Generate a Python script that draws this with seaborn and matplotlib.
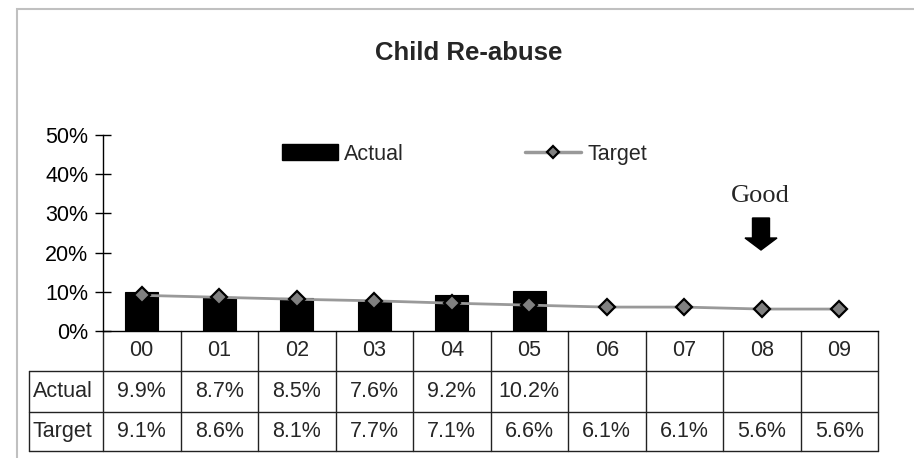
import matplotlib
matplotlib.use("Agg")
import matplotlib.pyplot as plt
import matplotlib.patches as mpatches
from matplotlib.lines import Line2D
from matplotlib.ticker import PercentFormatter
import seaborn as sns

# ---------- data ----------
years = ["00", "01", "02", "03", "04", "05", "06", "07", "08", "09"]
actual_years = ["00", "01", "02", "03", "04", "05"]
actual = [0.099, 0.087, 0.085, 0.076, 0.092, 0.102]
target = [0.091, 0.086, 0.081, 0.077, 0.071, 0.066, 0.061, 0.061, 0.056, 0.056]
yticks = [0.0, 0.1, 0.2, 0.3, 0.4, 0.5]

# ---------- style ----------
sns.set_style("ticks")
plt.rcParams["font.family"] = ["Liberation Sans", "DejaVu Sans"]
FS = 15.5
LINE_GREY = "#999999"
TABLE_LC = "#222222"

W, H = 914, 458
fig = plt.figure(figsize=(W / 100, H / 100), dpi=100)
ax = fig.add_axes([103 / W, (H - 331) / H, 775 / W, 196 / H])

sns.barplot(x=actual_years, y=actual, order=years, color="black",
            saturation=1, width=0.43, edgecolor="black", linewidth=0.8, ax=ax)
sns.pointplot(x=years, y=target, order=years, color=LINE_GREY,
              markers="D", markersize=8, linewidth=2,
              markerfacecolor="#808080", markeredgecolor="black",
              markeredgewidth=1.6, errorbar=None, ax=ax)

ax.set_xlim(-0.5, len(years) - 0.5)
ax.set_ylim(0, 0.5)
ax.set_yticks(yticks)
ax.yaxis.set_major_formatter(PercentFormatter(1.0, decimals=0))
ax.tick_params(axis="y", direction="inout", length=11, width=1, pad=5,
               labelsize=FS, colors="black")
ax.tick_params(axis="x", length=0, labelbottom=False)
ax.set_xlabel("")
ax.set_ylabel("")
for s in ["top", "right"]:
    ax.spines[s].set_visible(False)
for s in ["left", "bottom"]:
    ax.spines[s].set_color("black")
    ax.spines[s].set_linewidth(1)

# ---------- data table under the axis ----------
tr = ax.get_xaxis_transform()
rows = [0, -40 / 196, -81 / 196, -120 / 196]
x_left = -0.5 - (103 - 29) / 77.5
x_right = len(years) - 0.5
for k in range(len(years) + 1):
    ax.plot([k - 0.5, k - 0.5], [rows[0], rows[3]], color=TABLE_LC, lw=1,
            transform=tr, clip_on=False)
ax.plot([x_left, x_left], [rows[1], rows[3]], color=TABLE_LC, lw=1,
        transform=tr, clip_on=False)
for r in rows[1:]:
    ax.plot([x_left, x_right], [r, r], color=TABLE_LC, lw=1,
            transform=tr, clip_on=False)

mid = [(rows[i] + rows[i + 1]) / 2 for i in range(3)]
for i, y in enumerate(years):
    ax.text(i, mid[0], y, ha="center", va="center", fontsize=FS, transform=tr)
for i, v in enumerate(actual):
    ax.text(i, mid[1], f"{v * 100:.1f}%", ha="center", va="center",
            fontsize=FS, transform=tr)
for i, v in enumerate(target):
    ax.text(i, mid[2], f"{v * 100:.1f}%", ha="center", va="center",
            fontsize=FS, transform=tr)
ax.text(x_left + 0.05, mid[1], "Actual", ha="left", va="center",
        fontsize=FS, transform=tr)
ax.text(x_left + 0.05, mid[2], "Target", ha="left", va="center",
        fontsize=FS, transform=tr)

# ---------- legend ----------
h_act = mpatches.Patch(facecolor="black", edgecolor="black", label="Actual")
h_tgt = Line2D([], [], color=LINE_GREY, lw=2.5, marker="D", markersize=6.5,
               markerfacecolor="#808080", markeredgecolor="black",
               markeredgewidth=1.6, label="Target")
ax.legend(handles=[h_act, h_tgt], loc="center left",
          bbox_to_anchor=((282 - 103) / 775, (331 - 154) / 196),
          ncol=2, frameon=False, fontsize=FS, borderpad=0, borderaxespad=0,
          handlelength=2.6, handleheight=0.75, handletextpad=0.3,
          columnspacing=5.6)

# ---------- title, note, arrow, border ----------
fig.text(469 / W, 1 - 60 / H, "Child Re-abuse", ha="center", va="baseline",
         fontsize=18.5, fontweight="bold")
fig.text(760 / W, 1 - 196 / H, "Good", ha="center", va="center",
         fontsize=19, family=["Liberation Serif", "DejaVu Serif"])
fig.add_artist(mpatches.FancyArrow(7.61, (H - 218) / 100, 0, -0.32,
                                   width=0.17, head_width=0.32,
                                   head_length=0.12, length_includes_head=True,
                                   color="black",
                                   transform=fig.dpi_scale_trans))
fig.add_artist(mpatches.Rectangle((17 / W, -0.1), 2, 1.1 - 9 / H,
                                  fill=False, edgecolor="#c0c0c0", lw=1.5,
                                  transform=fig.transFigure))

fig.savefig("out.png", dpi=100)
